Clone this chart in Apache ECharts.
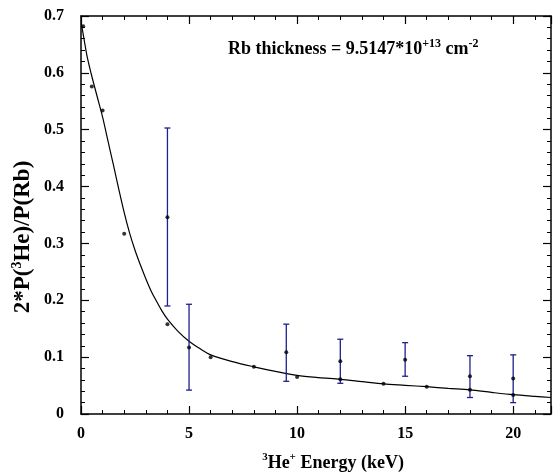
<!DOCTYPE html>
<html>
<head>
<meta charset="utf-8">
<script src="https://cdn.jsdelivr.net/npm/echarts@6/dist/echarts.min.js"></script>
<style>
html,body{margin:0;padding:0;background:#fff;}
#c{width:553px;height:472px;}
</style>
</head>
<body>
<div id="c"></div>
<script>
// Fitted curve
const fitX = [0.02,0.1,0.2,0.31,0.5,0.75,1.0,1.25,1.5,1.75,2.0,2.25,2.5,2.75,3.0,3.25,3.5,3.75,4.0,4.5,5.0,5.5,6.0,7.0,8.0,9.0,10,11,12,13,14,15,16,17,18,19,20,21,21.75];
const fitY = [0.686,0.668,0.646,0.624,0.594,0.558,0.522,0.480,0.438,0.395,0.354,0.318,0.288,0.262,0.238,0.216,0.198,0.181,0.167,0.145,0.128,0.115,0.104,0.092,0.083,0.075,0.068,0.064,0.061,0.057,0.053,0.0505,0.048,0.045,0.0423,0.038,0.034,0.031,0.029];

// Points without error bars
const ptX = [0.1,0.5,1,2,4,6,8,10,12,14,16,18,20];
const ptY = [0.682,0.576,0.534,0.317,0.158,0.100,0.083,0.065,0.061,0.053,0.048,0.0425,0.0333];

// Points with error bars
const erX  = [4,5,9.5,12,15,18,20];
const erY  = [0.346,0.117,0.1086,0.0927,0.0956,0.0665,0.0625];
const erLo = [0.190,0.042,0.0575,0.054,0.0664,0.029,0.020];
const erHi = [0.503,0.193,0.158,0.1315,0.1255,0.1026,0.104];

// Axis settings
const xMin = 0, xMax = 21.75, xStep = 5;
const yMin = 0, yMax = 0.7, yStep = 0.1;

const FONT = 'Liberation Serif';
const chart = echarts.init(document.getElementById('c'));

function axisBase(extra){
  return Object.assign({
    type:'value',
    axisLine:{show:true,onZero:false,lineStyle:{color:'#000',width:1.5}},
    axisTick:{show:true,inside:true,length:8,lineStyle:{color:'#000',width:1.2}},
    minorTick:{show:true,splitNumber:5,length:4,lineStyle:{color:'#000',width:1}},
    splitLine:{show:false},
    minorSplitLine:{show:false}
  }, extra);
}

const option = {
  animation:false,
  backgroundColor:'#fff',
  grid:{left:81,right:2,top:16,bottom:58,containLabel:false},
  xAxis:[
    axisBase({min:xMin,max:xMax,interval:xStep,position:'bottom',
      axisLabel:{show:true,margin:12,color:'#000',fontFamily:FONT,fontWeight:'bold',fontSize:16,showMaxLabel:false,
        formatter:function(v){return (Math.abs(v % 5) < 1e-9) ? String(v) : '';}}}),
    axisBase({min:xMin,max:xMax,interval:xStep,position:'top',axisLabel:{show:false}})
  ],
  yAxis:[
    axisBase({min:yMin,max:yMax,interval:yStep,position:'left',
      axisLabel:{show:true,margin:17,color:'#000',fontFamily:FONT,fontWeight:'bold',fontSize:16,
        formatter:function(v){return v===0?'0':(+v.toFixed(1)).toString();}}}),
    axisBase({min:yMin,max:yMax,interval:yStep,position:'right',axisLabel:{show:false}})
  ],
  series:[
    {
      type:'line',
      data:fitX.map((x,i)=>[x,fitY[i]]),
      showSymbol:false,
      smooth:0.3,
      lineStyle:{color:'#000',width:1.2},
      z:2
    },
    {
      type:'custom',
      data:erX.map((x,i)=>[x,erLo[i],erHi[i]]),
      renderItem:function(params,api){
        const x=api.value(0), lo=api.value(1), hi=api.value(2);
        const p1=api.coord([x,lo]), p2=api.coord([x,hi]);
        const w=3;
        const st={stroke:'#1f1f8f',lineWidth:1.3};
        return {type:'group',children:[
          {type:'line',shape:{x1:p1[0],y1:p1[1],x2:p2[0],y2:p2[1]},style:st},
          {type:'line',shape:{x1:p1[0]-w,y1:p1[1],x2:p1[0]+w,y2:p1[1]},style:st},
          {type:'line',shape:{x1:p2[0]-w,y1:p2[1],x2:p2[0]+w,y2:p2[1]},style:st}
        ]};
      },
      z:3
    },
    {
      type:'scatter',
      data:ptX.map((x,i)=>[x,ptY[i]]),
      symbol:'circle',symbolSize:4,
      itemStyle:{color:'#000'},
      z:4
    },
    {
      type:'scatter',
      data:erX.map((x,i)=>[x,erY[i]]),
      symbol:'circle',symbolSize:4,
      itemStyle:{color:'#000'},
      z:4
    }
  ],
  graphic:[
    {
      type:'text',x:333,y:463,
      style:{
        text:'{s|3}{m|He}{s|+}{m| Energy (keV)}',
        align:'center',verticalAlign:'middle',
        fontFamily:FONT,fontWeight:'bold',
        rich:{
          m:{fontFamily:FONT,fontWeight:'bold',fontSize:18,lineHeight:22,verticalAlign:'middle',fill:'#000'},
          s:{fontFamily:FONT,fontWeight:'bold',fontSize:11,lineHeight:12,verticalAlign:'top',fill:'#000'}
        }
      }
    },
    {
      type:'text',x:23,y:237,rotation:Math.PI/2,
      style:{
        text:'{m|2*P(}{s|3}{m|He)/P(Rb)}',
        align:'center',verticalAlign:'middle',
        fontFamily:FONT,fontWeight:'bold',
        rich:{
          m:{fontFamily:FONT,fontWeight:'bold',fontSize:23,lineHeight:26,verticalAlign:'middle',fill:'#000'},
          s:{fontFamily:FONT,fontWeight:'bold',fontSize:14,lineHeight:14,verticalAlign:'top',fill:'#000'}
        }
      }
    },
    {
      type:'text',x:228,y:49,
      style:{
        text:'{m|Rb thickness = 9.5147*10}{s|+13}{m| cm}{s|-2}',
        align:'left',verticalAlign:'middle',
        fontFamily:FONT,fontWeight:'bold',
        rich:{
          m:{fontFamily:FONT,fontWeight:'bold',fontSize:18,lineHeight:22,verticalAlign:'middle',fill:'#000'},
          s:{fontFamily:FONT,fontWeight:'bold',fontSize:12,lineHeight:12,verticalAlign:'top',fill:'#000'}
        }
      }
    }
  ]
};
chart.setOption(option);
</script>
</body>
</html>
